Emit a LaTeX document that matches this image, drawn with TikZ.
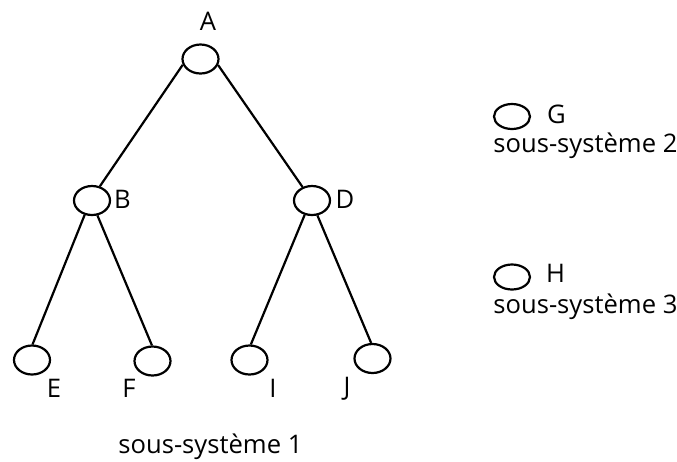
\documentclass[tikz,border=0pt]{standalone}
\usepackage{fontspec}
\setmainfont{Open Sans}
\usetikzlibrary{shapes.geometric}
\begin{document}
\begin{tikzpicture}[x=0.5pt,y=-0.5pt,
  ell/.style={draw, ellipse, line width=1.1pt, minimum width=18pt, minimum height=14.5pt, inner sep=0pt},
  ellsmall/.style={ell, minimum height=12.5pt},
  lbl/.style={anchor=base, inner sep=0pt, font=\fontsize{12.8pt}{14pt}\selectfont},
  captxt/.style={anchor=base west, inner sep=0pt, font=\fontsize{12.8pt}{14pt}\selectfont},
  conn/.style={line width=1.1pt}]
\useasboundingbox (0,0) rectangle (677,462);
\node[ell] (A) at (200.5,59) {};
\node[ell] (B) at (92,200.5) {};
\node[ell] (D) at (312,200.5) {};
\node[ell] (E) at (32,360) {};
\node[ell] (F) at (152.5,361) {};
\node[ell] (I) at (249.5,360) {};
\node[ell] (J) at (372.5,358.5) {};
\node[ellsmall] (G) at (512,116.5) {};
\node[ellsmall] (H) at (512,277) {};
\draw[conn] (A.198) -- (B.61);
\draw[conn] (A.341) -- (D.125);
\draw[conn] (B.243) -- (E.88);
\draw[conn] (B.290) -- (F.92);
\draw[conn] (D.243) -- (I.85);
\draw[conn] (D.290) -- (J.95);
\node[lbl] (lA) at (208,30) {A};
\node[lbl] (lB) at (122.5,208) {B};
\node[lbl] (lD) at (345,208) {D};
\node[lbl] (lE) at (54,397) {E};
\node[lbl] (lF) at (129,397) {F};
\node[lbl] (lI) at (273,397) {I};
\node[lbl] (lJ) at (347,395) {J};
\node[lbl] (lG) at (556.5,123) {G};
\node[lbl] (lH) at (555.5,282) {H};
\node[captxt] (s1) at (118,453) {sous-système 1};
\node[captxt] (s2) at (493,152) {sous-système 2};
\node[captxt] (s3) at (493,313) {sous-système 3};
\end{tikzpicture}
\end{document}
